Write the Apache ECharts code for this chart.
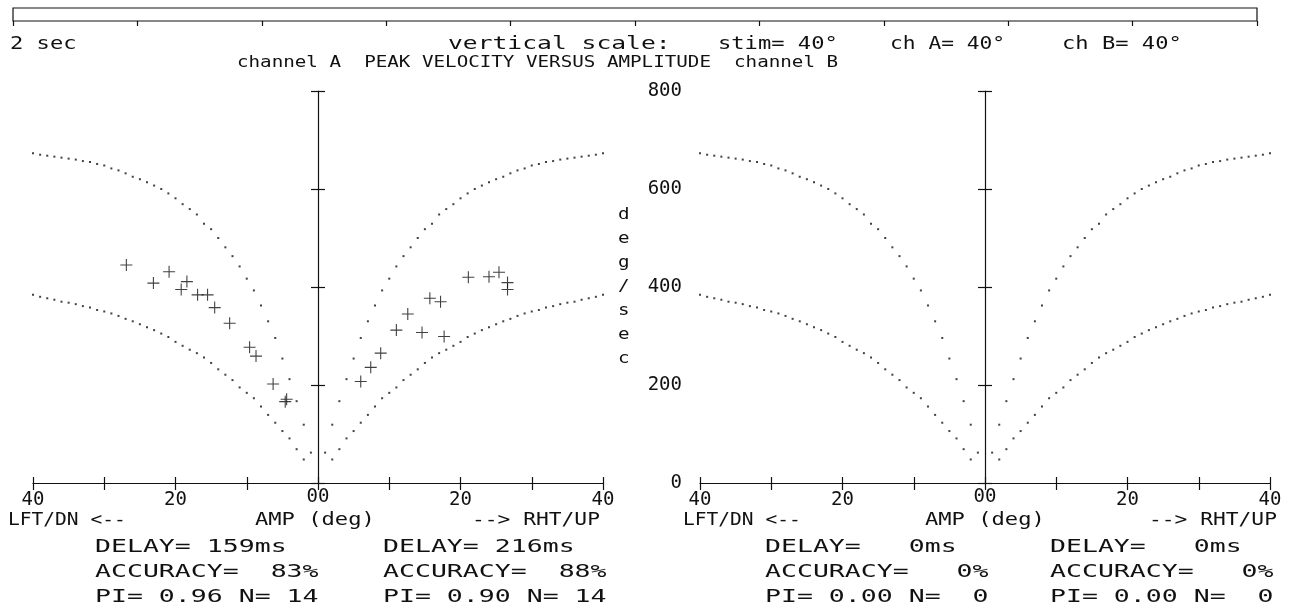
<!DOCTYPE html>
<html>
<head>
<meta charset="utf-8">
<script src="https://cdn.jsdelivr.net/npm/echarts@6/dist/echarts.min.js"></script>
<style>html,body{margin:0;padding:0;background:#fff}#c{width:1291px;height:612px}</style>
</head>
<body>
<div id="c"></div>
<script>
// ---------- data ----------
// reference-curve amplitudes (deg) and peak velocities (deg/sec)
const curveAmp = [1,2,3,4,5,6,7,8,9,10,11,12,13,14,15,16,17,18,19,20,21,22,23,24,25,26,27,28,29,30,31,32,33,34,35,36,37,38,39,40];
const upperCurve = [62,119,167,212,254,296,330,362,393,417,442,463,481,500,518,529,548,559,569,581,591,600,607,614,620,625,632,638,642,648,651,655,657,660,662,664,666,668,670,673];
const lowerCurve = [null,48,69,91,106,123,139,156,173,184,195,210,221,232,245,256,265,272,280,288,298,305,312,318,324,330,335,341,346,350,353,358,361,365,368,370,374,377,380,384];

// channel A saccades: left/down (negative) and right/up (positive)
const chA_leftAmp  = [-26.9,-20.9,-23.1,-18.4,-19.2,-16.9,-15.5,-14.5,-12.4,-9.6,-8.7,-6.3,-4.6,-4.4];
const chA_leftVel  = [445,431,408,411,395,384,384,358,326,277,259,202,166,171];
const chA_rightAmp = [21.1,24.0,25.4,26.6,26.6,15.7,17.2,12.6,11.0,14.6,17.7,8.8,7.4,6.0];
const chA_rightVel = [420,421,430,409,395,377,370,345,312,307,299,265,236,207];

// channel B has no saccades (N = 0)
const chB_amp = [];
const chB_vel = [];

// tick labels (one per tick, from -40 to 40 by 10; and 0 to 800 by 200)
const xTickLabels = ['40','','20','','00','','20','','40'];
const yTickLabels = ['0','200','400','600','800'];

// stats text
const statsA = [['DELAY= 159ms','ACCURACY=  83%','PI= 0.96 N= 14'],['DELAY= 216ms','ACCURACY=  88%','PI= 0.90 N= 14']];
const statsB = [['DELAY=   0ms','ACCURACY=   0%','PI= 0.00 N=  0'],['DELAY=   0ms','ACCURACY=   0%','PI= 0.00 N=  0']];

// ---------- chart ----------
const FONT = '"DejaVu Sans Mono", "Liberation Mono", monospace';
const INK = '#111';
const mirror = (vals) => {
  const out = [];
  curveAmp.forEach((a, i) => { if (vals[i] != null) { out.push([-a, vals[i]]); out.push([a, vals[i]]); } });
  return out;
};
const zip = (xs, ys) => xs.map((x, i) => [x, ys[i]]);
const plusPath = 'path://M0,5h5V0h1v5h5v1H6v5H5V6H0z';
const tickIdx = (v, min, step) => Math.round((v - min) / step);

function xAxes(gridIndex) {
  const base = {
    type: 'value', gridIndex, min: -40, max: 40, interval: 10,
    splitLine: {show: false}
  };
  return [
    Object.assign({}, base, {
      position: 'bottom',
      axisLine: {show: true, onZero: false, lineStyle: {color: INK, width: 1.2}},
      axisTick: {show: true, inside: false, length: 7, lineStyle: {color: INK, width: 1.2}},
      axisLabel: {show: true, margin: 8, color: INK, fontFamily: FONT, fontSize: 19,
        formatter: v => {
          const i = tickIdx(v, -40, 10);
          return i === 4 ? '' : (xTickLabels[i] || '');
        }}
    }),
    Object.assign({}, base, {
      position: 'bottom',
      axisLine: {show: false, onZero: false},
      axisTick: {show: true, inside: true, length: 6, lineStyle: {color: INK, width: 1.2}},
      axisLabel: {show: false}
    })
  ];
}
function yAxes(gridIndex, withLabels) {
  const base = {type: 'value', gridIndex, min: 0, max: 800, interval: 200, splitLine: {show: false}};
  const arr = [
    Object.assign({}, base, {
      position: 'left',
      axisLine: {show: true, onZero: true, lineStyle: {color: INK, width: 1.2}},
      axisTick: {show: true, inside: false, length: 7, lineStyle: {color: INK, width: 1.2}},
      axisLabel: {show: false}
    }),
    Object.assign({}, base, {
      position: 'left',
      axisLine: {show: false, onZero: true},
      axisTick: {show: true, inside: true, length: 7, lineStyle: {color: INK, width: 1.2}},
      axisLabel: {show: false}
    })
  ];
  if (withLabels) {
    arr.push(Object.assign({}, base, {
      position: 'left',
      axisLine: {show: false, onZero: false},
      axisTick: {show: false},
      axisLabel: {show: true, margin: 18, color: INK, fontFamily: FONT, fontSize: 19,
        formatter: v => yTickLabels[tickIdx(v, 0, 200)] || ''}
    }));
  }
  return arr;
}

const xs = [...xAxes(0), ...xAxes(1), {
  type: 'value', gridIndex: 2, min: 0, max: 10, interval: 1,
  axisLine: {show: false}, splitLine: {show: false}, axisLabel: {show: false},
  axisTick: {show: true, inside: false, length: 5, lineStyle: {color: INK, width: 1.2}}
}];
const ys = [...yAxes(0, false), ...yAxes(1, true), {
  type: 'value', gridIndex: 2, min: 0, max: 1, show: false
}];

const dotSeries = (xi, yi, data) => ({
  type: 'scatter', xAxisIndex: xi, yAxisIndex: yi, data,
  symbol: 'rect', symbolSize: 2, itemStyle: {color: INK}, silent: true
});
const plusSeries = (xi, yi, data) => ({
  type: 'scatter', xAxisIndex: xi, yAxisIndex: yi, data,
  symbol: plusPath, symbolSize: 12, itemStyle: {color: INK}, silent: true
});

const texts = [];
function T(x, y, text, sx, size, align) {
  texts.push({type: 'text', x, y, scaleX: sx || 1.2, silent: true,
    style: {text, fill: INK, fontFamily: FONT, fontSize: size || 16, verticalAlign: 'middle', align: align || 'left'}});
}
// header, line 1
T(10, 45, '2 sec', 1.3, 17);
T(448, 45, 'vertical scale:', 1.45, 17);
T(718, 45, 'stim= 40°', 1.3, 17);
T(890, 45, 'ch A= 40°', 1.25, 17);
T(1062, 45, 'ch B= 40°', 1.3, 17);
// header, line 2
T(237, 63, 'channel A  PEAK VELOCITY VERSUS AMPLITUDE  channel B', 1.2, 16);
['d','e','g','/','s','e','c'].forEach((ch, i) => T(618, 215 + i * 24, ch, 1.2, 16));
// centre tick label "00" under each zero-amplitude axis
T(318, 497, xTickLabels[4], 1, 19, 'center');
T(985, 497, xTickLabels[4], 1, 19, 'center');
// under-axis labels
T(8, 521, 'LFT/DN <--', 1.15, 17); T(255, 521, 'AMP (deg)', 1.3, 17); T(472, 521, '--> RHT/UP', 1.25, 17);
T(683, 521, 'LFT/DN <--', 1.15, 17); T(925, 521, 'AMP (deg)', 1.3, 17); T(1149, 521, '--> RHT/UP', 1.25, 17);
// stats (~16 px per character)
[[95, statsA[0]], [383, statsA[1]], [765, statsB[0]], [1050, statsB[1]]].forEach(([x, rows]) => {
  rows.forEach((r, i) => T(x, 548 + i * 25, r, 1.56, 17));
});

const option = {
  animation: false,
  backgroundColor: '#fff',
  grid: [
    {left: 33, right: 688, top: 91, bottom: 129},
    {left: 700, right: 21, top: 91, bottom: 129},
    {left: 13, right: 34, top: 8, height: 13, show: true, borderColor: INK, borderWidth: 1.2, backgroundColor: 'transparent'}
  ],
  xAxis: xs,
  yAxis: ys,
  graphic: texts,
  series: [
    dotSeries(0, 0, mirror(upperCurve)),
    dotSeries(0, 0, mirror(lowerCurve)),
    dotSeries(2, 2, mirror(upperCurve)),
    dotSeries(2, 2, mirror(lowerCurve)),
    plusSeries(0, 0, zip(chA_leftAmp, chA_leftVel)),
    plusSeries(0, 0, zip(chA_rightAmp, chA_rightVel)),
    plusSeries(2, 2, zip(chB_amp, chB_vel))
  ]
};
const chart = echarts.init(document.getElementById('c'), null, {renderer: 'canvas'});
chart.setOption(option);
</script>
</body>
</html>
